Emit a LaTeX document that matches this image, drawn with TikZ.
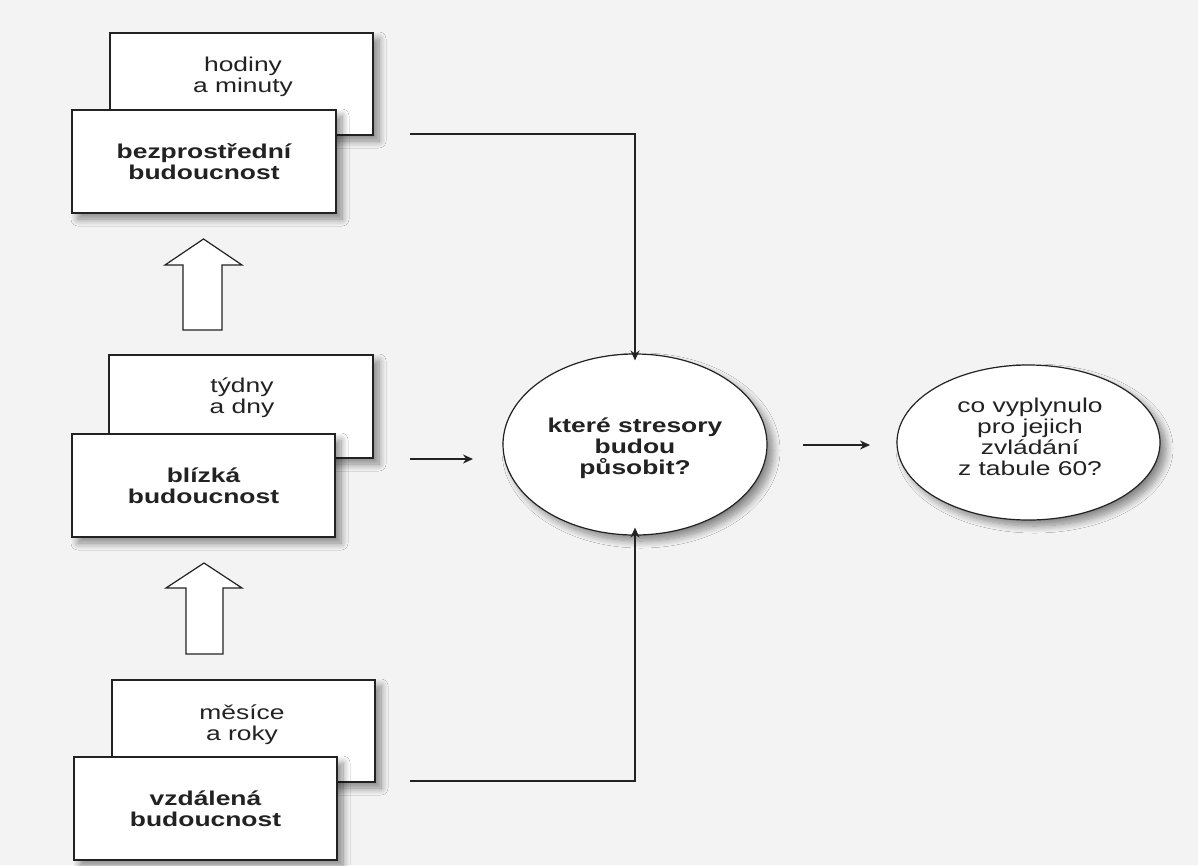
\documentclass[tikz,border=0pt]{standalone}
\usepackage{fontspec}
\setmainfont[FakeStretch=1.32]{Liberation Sans}
\usetikzlibrary{shapes.geometric,arrows.meta,shadows.blur}
\definecolor{ink}{HTML}{222222}
\definecolor{paper}{HTML}{F3F3F3}
\tikzset{
  soft/.style={blur shadow={shadow xshift=6pt,shadow yshift=-6pt,shadow blur radius=7pt,shadow blur steps=12,shadow opacity=45}},
  backbox/.style={draw=ink,line width=1.2pt,fill=white,soft,inner sep=0pt},
  frontbox/.style={draw=ink,line width=1.2pt,fill=white,soft,inner sep=0pt},
  label/.style={text=ink,align=center,font=\fontsize{20}{21}\selectfont},
  boldlabel/.style={label,font=\fontsize{20}{21}\selectfont\bfseries},
  oval/.style={ellipse,draw=ink,line width=1.2pt,fill=white,soft,inner sep=0pt},
  link/.style={draw=ink,line width=1.3pt,-{Stealth[length=10pt,width=9pt]}},
  blockarrow/.style={draw=ink,line width=1.2pt,fill=white,line join=miter},
}
\begin{document}
\begin{tikzpicture}[x=1pt,y=-1pt]
\useasboundingbox[fill=paper] (0,0) rectangle (1198,865);

% three pairs of overlapping cards
\node[backbox,minimum width=263pt,minimum height=102pt] (b1) at (241.5,84) {};
\node[label] (t1) at (243,77) {hodiny\\a minuty};
\node[frontbox,minimum width=264pt,minimum height=103pt] (f1) at (204,161.5) {};
\node[boldlabel] (l1) at (f1.center) {bezprostřední\\budoucnost};

\node[backbox,minimum width=264pt,minimum height=103pt] (b2) at (241,406.5) {};
\node[label] (t2) at (242,398) {týdny\\a dny};
\node[frontbox,minimum width=263pt,minimum height=103pt] (f2) at (203.5,485.5) {};
\node[boldlabel] (l2) at (f2.center) {blízká\\budoucnost};

\node[backbox,minimum width=263pt,minimum height=102pt] (b3) at (243.5,731) {};
\node[label] (t3) at (242,725) {měsíce\\a roky};
\node[frontbox,minimum width=263pt,minimum height=103pt] (f3) at (205.5,808.5) {};
\node[boldlabel] (l3) at (f3.center) {vzdálená\\budoucnost};

% hollow upward arrows between the cards
\draw[blockarrow] (183,330) -- (183,265) -- (165,265) -- (203.5,239) -- (242,265) -- (222,265) -- (222,330) -- cycle;
\draw[blockarrow] (186,654) -- (186,588) -- (166,588) -- (204,563) -- (242,588) -- (223,588) -- (223,654) -- cycle;

% the two questions
\node[oval,minimum width=264pt,minimum height=181pt] (q) at (635,444.5) {};
\node[boldlabel] (ql) at (635,448) {které stresory\\budou\\působit?};
\node[oval,minimum width=263pt,minimum height=155pt] (r) at (1028.5,442.5) {};
\node[label] (rl) at (1030,437) {co vyplynulo\\pro jejich\\zvládání\\z tabule 60?};

% connectors
\coordinate (s1) at (410,134);
\coordinate (s2) at (410,459);
\coordinate (e2) at (473,459);
\coordinate (s3) at (410,781);
\coordinate (s4) at (803,445);
\coordinate (e4) at (870,445);
\draw[link] (s1) -| ([yshift=-7pt]q.north);
\draw[link] (s2) -- (e2);
\draw[link] (s3) -| ([yshift=8pt]q.south);
\draw[link] (s4) -- (e4);
\end{tikzpicture}
\end{document}
